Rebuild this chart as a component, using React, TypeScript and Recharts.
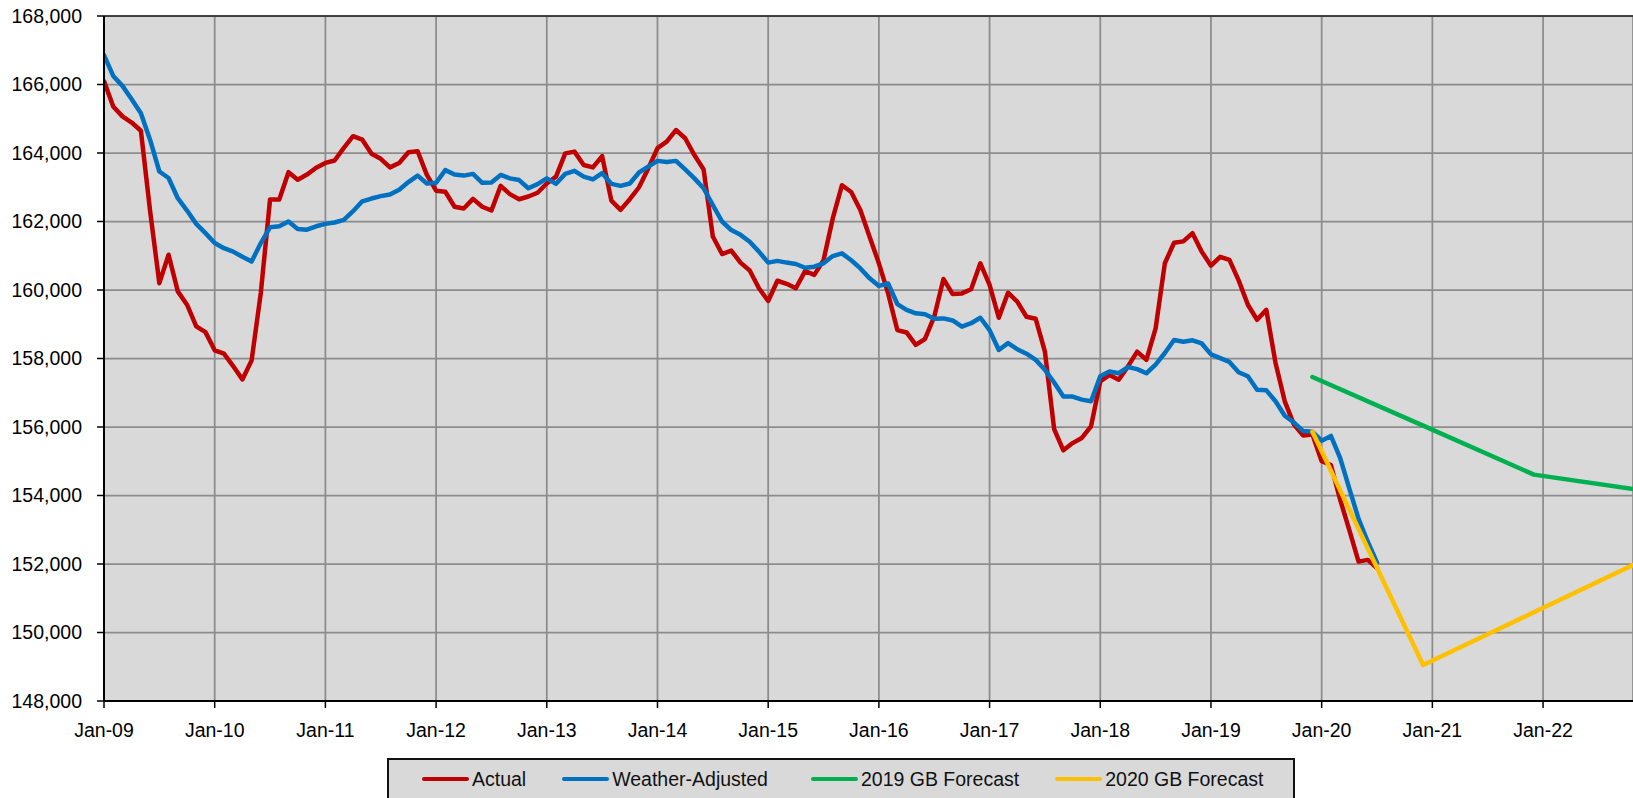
import {
  LineChart,
  Line,
  XAxis,
  YAxis,
  CartesianGrid,
  Legend,
  ReferenceLine,
} from "recharts";

// month 0 = Jan-09, one value per month through Jul-20
const actual = [
  166100, 165360, 165070, 164890, 164650, 162300, 160200, 161030, 159960, 159570, 158940, 158770,
  158240, 158140, 157780, 157390, 157940, 159920, 162640, 162640, 163440, 163220, 163370, 163570,
  163710, 163780, 164150, 164490, 164390, 163980, 163830, 163580, 163710, 164020, 164050, 163360,
  162900, 162870, 162430, 162380, 162660, 162430, 162320, 163040, 162800, 162650, 162730, 162840,
  163110, 163310, 163990, 164040, 163650, 163580, 163910, 162610, 162340, 162650, 163000, 163550,
  164140, 164330, 164670, 164430, 163940, 163520, 161560, 161050, 161150, 160800, 160570, 160050,
  159680, 160270, 160180, 160050, 160550, 160440, 160870, 162090, 163060, 162860, 162330, 161550,
  160780, 159900, 158830, 158760, 158400, 158570, 159220, 160320, 159880, 159900, 160020, 160780,
  160150, 159190, 159920, 159660, 159220, 159160, 158200, 155940, 155320, 155530, 155680, 156020,
  157330, 157520, 157380, 157770, 158200, 157960, 158880, 160780, 161380, 161420, 161660, 161120,
  160710, 160970, 160880, 160280, 159570, 159130, 159420, 157870, 156750, 156070, 155750, 155780,
  155000, 154890, 153880, 152990, 152070, 152120, 151880,
];

const weatherAdjusted = [
  166860, 166250, 165960, 165570, 165160, 164380, 163460, 163270, 162680, 162320, 161930, 161660,
  161370, 161220, 161120, 160970, 160830, 161370, 161830, 161860, 162000, 161780, 161760, 161860,
  161930, 161970, 162050, 162300, 162590, 162670, 162740, 162790, 162930, 163150, 163340, 163110,
  163130, 163500, 163370, 163340, 163390, 163130, 163140, 163360, 163260, 163210, 162970, 163090,
  163260, 163100, 163390, 163480, 163310, 163230, 163410, 163100, 163040, 163110, 163430, 163600,
  163770, 163740, 163770, 163520, 163260, 162970, 162480, 162000, 161750, 161610, 161410, 161120,
  160800, 160850, 160800, 160760, 160650, 160680, 160780, 160990, 161070, 160870, 160630, 160340,
  160120, 160190, 159590, 159420, 159320, 159290, 159160, 159170, 159110, 158930, 159030, 159190,
  158830, 158250, 158450, 158270, 158140, 157960, 157670, 157300, 156890, 156890, 156800, 156750,
  157480, 157620, 157570, 157750, 157690, 157570, 157820, 158160, 158540, 158490, 158530, 158440,
  158120, 158010, 157900, 157600, 157480, 157090, 157070, 156750, 156330, 156130, 155880, 155860,
  155600, 155740, 155100, 154200, 153320, 152650, 152040,
];

const forecastMonths = ["Dec-19", "Dec-20", "Dec-21", "Dec-22"];
const forecast2019 = [157460, 156040, 154610, 154140];
const forecast2020 = [155860, 149050, 150590, 152130];

const xTickLabels = [
  "Jan-09", "Jan-10", "Jan-11", "Jan-12", "Jan-13", "Jan-14", "Jan-15",
  "Jan-16", "Jan-17", "Jan-18", "Jan-19", "Jan-20", "Jan-21", "Jan-22",
];
const yTicks = [
  148000, 150000, 152000, 154000, 156000, 158000, 160000, 162000, 164000, 166000, 168000,
];

const MONTHS = ["Jan", "Feb", "Mar", "Apr", "May", "Jun", "Jul", "Aug", "Sep", "Oct", "Nov", "Dec"];
const monthIndex = (label: string) => {
  const [mon, yy] = label.split("-");
  return (Number(yy) - 9) * 12 + MONTHS.indexOf(mon);
};

const xTicks = xTickLabels.map(monthIndex);
const lastMonth = monthIndex("Dec-22");

const rows: Record<string, number | null>[] = [];
for (let m = 0; m <= lastMonth; m++) {
  rows.push({ m, actual: actual[m] ?? null, weather: weatherAdjusted[m] ?? null, gb2019: null, gb2020: null });
}
forecastMonths.forEach((label, i) => {
  const r = rows[monthIndex(label)];
  r.gb2019 = forecast2019[i];
  r.gb2020 = forecast2020[i];
});

const SERIES = [
  { key: "actual", name: "Actual", color: "#c00000" },
  { key: "weather", name: "Weather-Adjusted", color: "#0070c0" },
  { key: "gb2019", name: "2019 GB Forecast", color: "#00b050" },
  { key: "gb2020", name: "2020 GB Forecast", color: "#ffc000" },
];
// space before each legend entry (Calibri in the original runs a bit wider)
const legendGaps = [0, 36, 43, 36];

const FONT = "'Liberation Sans', Arial, sans-serif";
const tickStyle = { fontFamily: FONT, fontSize: 19.5, fill: "#000" };

function LegendBox() {
  return (
    <div
      style={{
        boxSizing: "border-box",
        height: 60,
        border: "2px solid #111",
        background: "#d9d9d9",
        display: "flex",
        alignItems: "flex-start",
        paddingTop: 8,
        paddingLeft: 33,
        paddingRight: 30,
        fontFamily: FONT,
        fontSize: 19.5,
        lineHeight: "22px",
        color: "#111",
        whiteSpace: "nowrap",
      }}
    >
      {SERIES.map((s, i) => (
        <div key={s.key} style={{ display: "flex", alignItems: "center", marginLeft: legendGaps[i] }}>
          <div style={{ width: 47, height: 4.5, borderRadius: 2, background: s.color, marginRight: 3 }} />
          <span>{s.name}</span>
        </div>
      ))}
    </div>
  );
}

export default function App() {
  return (
    <div style={{ position: "absolute", left: 0, top: 0, width: 1633, height: 798, overflow: "hidden", background: "#fff" }}>
      <LineChart width={1633} height={798} data={rows} margin={{ top: 16, right: 0, bottom: 0, left: 0 }}>
        <CartesianGrid stroke="#8c8c8c" strokeWidth={1.75} fill="#d9d9d9" fillOpacity={1} />
        <XAxis
          type="number"
          dataKey="m"
          domain={[0, 165.75]}
          allowDataOverflow
          ticks={xTicks}
          tickFormatter={(v: number) => xTickLabels[xTicks.indexOf(v)]}
          height={97}
          tickSize={7}
          tickMargin={15}
          tick={tickStyle}
          axisLine={{ stroke: "#000", strokeWidth: 2 }}
          tickLine={{ stroke: "#000", strokeWidth: 1.5 }}
          interval={0}
        />
        <YAxis
          domain={[148000, 168000]}
          ticks={yTicks}
          width={104}
          tickSize={7}
          tickMargin={15}
          tick={tickStyle}
          tickFormatter={(v: number) => v.toLocaleString("en-US")}
          axisLine={{ stroke: "#000", strokeWidth: 2 }}
          tickLine={{ stroke: "#000", strokeWidth: 1.5 }}
          interval={0}
        />
        <ReferenceLine y={168000} stroke="#222" strokeWidth={1.5} />
        {SERIES.map((s) => (
          <Line
            key={s.key}
            type="linear"
            dataKey={s.key}
            name={s.name}
            stroke={s.color}
            strokeWidth={4.5}
            strokeLinejoin="round"
            strokeLinecap="round"
            dot={false}
            activeDot={false}
            connectNulls
            isAnimationActive={false}
          />
        ))}
        <Legend
          verticalAlign="middle"
          align="center"
          layout="horizontal"
          content={() => <LegendBox />}
          wrapperStyle={{ top: 758, left: 387, width: "auto", height: "auto" }}
        />
      </LineChart>
    </div>
  );
}
